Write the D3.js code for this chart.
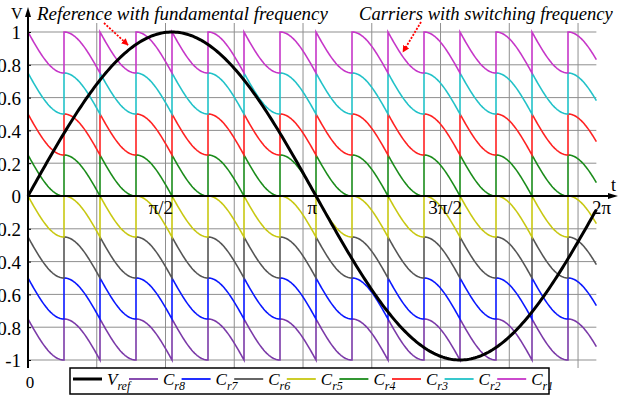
<!DOCTYPE html>
<html>
<head>
<meta charset="utf-8">
<script src="https://cdn.jsdelivr.net/npm/d3@7"></script>
<style>
  body { margin: 0; background: #fff; }
  svg { display: block; }
  svg text { font-family: "Liberation Serif", "DejaVu Serif", "Times New Roman", Times, serif; }
</style>
</head>
<body>
<svg id="chart" width="618" height="397"></svg>
<script>
// ---- data ----
const legendNames   = ["ref", "r8", "r7", "r6", "r5", "r4", "r3", "r2", "r1"];
const carrierNames  = ["r8", "r7", "r6", "r5", "r4", "r3", "r2", "r1"];
const carrierTops   = [-0.75, -0.5, -0.25, 0, 0.25, 0.5, 0.75, 1];
const carrierColors = ["#7b3aa8", "#0a18ff", "#555555", "#c8c812", "#1b8c1b", "#ff2222", "#22c2c8", "#c636c8"];
const bandHeight    = 0.25;      // each carrier spans a quarter unit
const carrierCycles = 16;        // carrier periods per fundamental period
const tEnd          = 6.2;       // last plotted instant (rad)
const gridStepX     = 0.75;      // vertical grid spacing (rad)
const yTicks        = [-1, -0.8, -0.6, -0.4, -0.2, 0, 0.2, 0.4, 0.6, 0.8, 1];
const yTickLabels   = ["-1", "-0.8", "-0.6", "-0.4", "-0.2", "0", "0.2", "0.4", "0.6", "0.8", "1"];
const xTicks        = [Math.PI / 2, Math.PI, 3 * Math.PI / 2, 2 * Math.PI];
const xTickLabels   = ["π/2", "π", "3π/2", "2π"];

const serif = "'Liberation Serif', 'DejaVu Serif', serif";

// ---- scales ----
const svg = d3.select("#chart");
const x = d3.scaleLinear().domain([0, 2 * Math.PI]).range([28, 604]);
const y = d3.scaleLinear().domain([-1, 1]).range([360, 32]);

// ---- grid ----
const grid = svg.append("g").attr("stroke", "#8f8f8f").attr("stroke-width", 1);
grid.selectAll("line.v").data(d3.range(1, 9).map(k => k * gridStepX)).join("line")
  .attr("class", "v")
  .attr("x1", d => x(d)).attr("x2", d => x(d))
  .attr("y1", 23).attr("y2", 368);
grid.selectAll("line.h").data(yTicks.filter(v => v !== 0)).join("line")
  .attr("class", "h")
  .attr("x1", x(0)).attr("x2", x(tEnd))
  .attr("y1", d => y(d)).attr("y2", d => y(d));

// ---- carriers ----
// Odd periods fall fast then level out, even periods start level and fall fast.
function carrierValue(top, k, s) {
  const drop = k % 2 === 0 ? Math.sin(Math.PI / 2 * s) : 1 - Math.cos(Math.PI / 2 * s);
  return top - bandHeight * drop;
}
function carrierPoints(top) {
  const P = 2 * Math.PI / carrierCycles;
  const pts = [];
  for (let k = 0; k * P < tEnd; k++) {
    for (let j = 0; j <= 40; j++) {
      const s = j / 40;
      const t = (k + s) * P;
      if (t > tEnd) { pts.push([tEnd, carrierValue(top, k, (tEnd - k * P) / P)]); break; }
      pts.push([t, carrierValue(top, k, s)]);
    }
  }
  return pts;
}
const line = d3.line().x(d => x(d[0])).y(d => y(d[1]));

svg.append("g").selectAll("path").data(carrierTops).join("path")
  .attr("d", d => line(carrierPoints(d)))
  .attr("fill", "none")
  .attr("stroke", (d, i) => carrierColors[i])
  .attr("stroke-width", 1.6);

// ---- reference ----
const refPoints = d3.range(0, 301).map(i => { const t = tEnd * i / 300; return [t, Math.sin(t)]; });
svg.append("path")
  .attr("d", line(refPoints))
  .attr("fill", "none")
  .attr("stroke", "#000")
  .attr("stroke-width", 3);

// ---- axes ----
const axisY = svg.append("g").attr("transform", `translate(${x(0)},0)`)
  .call(d3.axisLeft(y).tickValues(yTicks).tickSizeInner(3).tickSizeOuter(0).tickPadding(4)
    .tickFormat((d, i) => yTickLabels[i]));
axisY.attr("font-family", null).attr("font-size", null);
axisY.select(".domain").remove();
axisY.selectAll(".tick line").attr("stroke", "#000").attr("x2", 3);
axisY.selectAll(".tick text").style("font-family", serif).attr("font-size", 19)
  .attr("fill", "#000").attr("dy", "0.36em");

svg.append("line").attr("x1", x(0)).attr("x2", x(0)).attr("y1", 368).attr("y2", 14)
  .attr("stroke", "#000").attr("stroke-width", 2);
svg.append("path").attr("d", `M${x(0)},7 L${x(0) - 3},17 L${x(0) + 3},17 Z`).attr("fill", "#000");
svg.append("line").attr("x1", x(0)).attr("x2", 612).attr("y1", y(0)).attr("y2", y(0))
  .attr("stroke", "#000").attr("stroke-width", 2);
svg.append("path").attr("d", `M618,${y(0)} L608,${y(0) - 3} L608,${y(0) + 3} Z`).attr("fill", "#000");

svg.append("text").attr("x", 11).attr("y", 19).attr("font-size", 16).style("font-family", serif).text("V");
svg.append("text").attr("x", 611).attr("y", 191).attr("font-size", 18).style("font-family", serif).text("t");
svg.append("text").attr("x", x(0) + 2).attr("y", 388).attr("text-anchor", "middle").attr("font-size", 17)
  .style("font-family", serif).text("0");

// labels sit just left of their tick, the last one straddles the axis end
const xLabelShift = [1, 1, 2, 7];
svg.append("g").selectAll("text").data(xTicks).join("text")
  .attr("x", (d, i) => x(d) + xLabelShift[i])
  .attr("y", 214)
  .attr("text-anchor", "end")
  .attr("font-size", 19)
  .style("font-family", serif)
  .text((d, i) => xTickLabels[i]);

// ---- annotations ----
function fitText(sel, width) {
  const w = sel.node().getComputedTextLength();
  const fs = parseFloat(sel.attr("font-size"));
  sel.attr("font-size", fs * width / w);
}
const ann1 = svg.append("text").attr("x", 37).attr("y", 20).attr("font-size", 18)
  .style("font-family", serif).attr("font-style", "italic").text("Reference with fundamental frequency");
fitText(ann1, 291);
const ann2 = svg.append("text").attr("x", 359).attr("y", 20).attr("font-size", 18)
  .style("font-family", serif).attr("font-style", "italic").text("Carriers with switching frequency");
fitText(ann2, 254);

svg.append("defs").append("marker").attr("id", "redHead")
  .attr("viewBox", "0 0 10 10").attr("refX", 9).attr("refY", 5)
  .attr("markerWidth", 7).attr("markerHeight", 7).attr("markerUnits", "userSpaceOnUse")
  .attr("orient", "auto")
  .append("path").attr("d", "M0,0 L10,5 L0,10 Z").attr("fill", "#f00");
const arrows = [[104, 23, 128, 45], [421, 22, 403, 52]];
svg.append("g").selectAll("line").data(arrows).join("line")
  .attr("x1", d => d[0]).attr("y1", d => d[1]).attr("x2", d => d[2]).attr("y2", d => d[3])
  .attr("stroke", "#f00").attr("stroke-width", 1.8).attr("stroke-dasharray", "2,1.5")
  .attr("marker-end", "url(#redHead)");

// ---- legend ----
const legend = svg.append("g");
legend.append("rect").attr("x", 70).attr("y", 368).attr("width", 479).attr("height", 26)
  .attr("fill", "#fff").attr("stroke", "#000").attr("stroke-width", 1.5);
const legendColors = ["#000"].concat(carrierColors);
const itemX = i => i === 0 ? 107 : 163 + 52.6 * (i - 1);
const items = legend.selectAll("g.item").data(legendNames).join("g").attr("class", "item");
items.append("line")
  .attr("x1", (d, i) => itemX(i) - 34).attr("x2", (d, i) => itemX(i) - 5)
  .attr("y1", 379).attr("y2", 379)
  .attr("stroke", (d, i) => legendColors[i])
  .attr("stroke-width", (d, i) => i === 0 ? 3 : 1.8);
const lt = items.append("text").attr("x", (d, i) => itemX(i)).attr("y", 385)
  .style("font-family", serif).attr("font-style", "italic").attr("font-size", 17);
lt.append("tspan").text((d, i) => i === 0 ? "V" : "C");
lt.append("tspan").attr("font-size", 12).attr("dy", 5).text(d => d);
</script>
</body>
</html>
